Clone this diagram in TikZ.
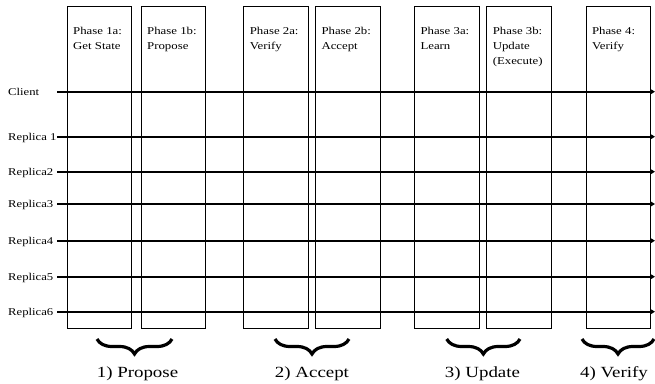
\documentclass[tikz,border=0pt]{standalone}
\usepackage{fontspec}
\setmainfont{Liberation Serif}[FakeStretch=1.22]
\usetikzlibrary{arrows.meta,decorations.pathreplacing}
\begin{document}
\begin{tikzpicture}[x=1pt,y=-1pt,
  phasebox/.style={draw=black,line width=0.8pt,minimum width=64.5pt,minimum height=322.6pt,anchor=north west,inner sep=0pt},
  phasetext/.style={anchor=base west,inner sep=0pt,font=\fontsize{10.5}{15}\selectfont},
  rowlabel/.style={anchor=base west,inner sep=0pt,font=\fontsize{10.4}{12}\selectfont},
  timeline/.style={line width=2pt,-{Triangle[length=4pt,width=4.5pt]}},
  groupbrace/.style={decorate,decoration={brace,mirror,amplitude=15pt},line width=3.2pt},
  grouplabel/.style={anchor=base,inner sep=0pt,font=\fontsize{15.5}{18}\selectfont}]
\useasboundingbox (0,0) rectangle (655,383);

% phase boxes
\node[phasebox] (p1a) at (66.7,5.7) {};
\node[phasebox] (p1b) at (140.7,5.7) {};
\node[phasebox] (p2a) at (243.3,5.7) {};
\node[phasebox] (p2b) at (315,5.7) {};
\node[phasebox] (p3a) at (414,5.7) {};
\node[phasebox] (p3b) at (486.3,5.7) {};
\node[phasebox] (p4) at (585.5,5.7) {};

% phase texts
\newcommand{\phtxt}[1]{\parbox[t]{60pt}{\raggedright #1}}
\node[phasetext] (t1a) at (73,34) {\phtxt{Phase 1a:\\Get State}};
\node[phasetext] (t1b) at (147,34) {\phtxt{Phase 1b:\\Propose}};
\node[phasetext] (t2a) at (249.6,34) {\phtxt{Phase 2a:\\Verify}};
\node[phasetext] (t2b) at (321.3,34) {\phtxt{Phase 2b:\\Accept}};
\node[phasetext] (t3a) at (420.3,34) {\phtxt{Phase 3a:\\Learn}};
\node[phasetext] (t3b) at (492.6,34) {\phtxt{Phase 3b:\\Update\\(Execute)}};
\node[phasetext] (t4) at (591.8,34) {\phtxt{Phase 4:\\Verify}};

% row labels
\node[rowlabel] (lc) at (8,95.5) {Client};
\node[rowlabel] (l1) at (8,140.4) {Replica 1};
\node[rowlabel] (l2) at (8,175.4) {Replica2};
\node[rowlabel] (l3) at (8,207.7) {Replica3};
\node[rowlabel] (l4) at (8,244.4) {Replica4};
\node[rowlabel] (l5) at (8,280.4) {Replica5};
\node[rowlabel] (l6) at (8,315.4) {Replica6};

% timelines
\foreach \n/\y in {c/91.7,1/136.7,2/171.7,3/204,4/240.7,5/276.7,6/311.7}{
  \coordinate (s\n) at (57,\y);
  \coordinate (e\n) at (655,\y);
  \draw[timeline] (s\n) -- (e\n);
}

% braces
\coordinate (b1l) at (97,339); \coordinate (b1r) at (172,339);
\coordinate (b2l) at (275,339); \coordinate (b2r) at (349,339);
\coordinate (b3l) at (446.7,339); \coordinate (b3r) at (520,339);
\coordinate (b4l) at (582,339); \coordinate (b4r) at (654,339);
\draw[groupbrace] (b1l) -- (b1r);
\draw[groupbrace] (b2l) -- (b2r);
\draw[groupbrace] (b3l) -- (b3r);
\draw[groupbrace] (b4l) -- (b4r);

% group labels
\node[grouplabel] (g1) at (137.5,377.5) {1) Propose};
\node[grouplabel] (g2) at (312,377.5) {2) Accept};
\node[grouplabel] (g3) at (482.5,377.5) {3) Update};
\node[grouplabel] (g4) at (614,377.5) {4) Verify};
\end{tikzpicture}
\end{document}
